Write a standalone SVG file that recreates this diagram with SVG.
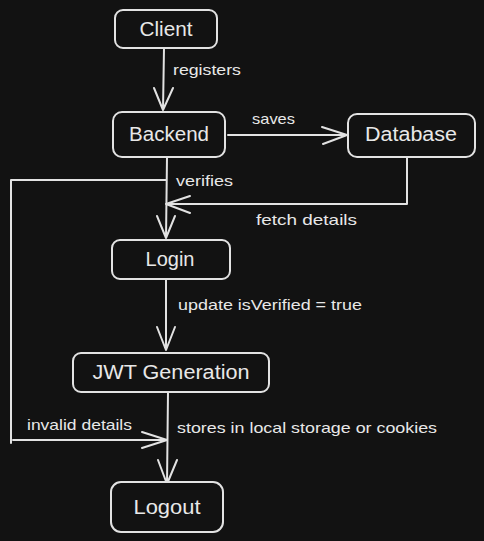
<svg xmlns="http://www.w3.org/2000/svg" width="484" height="541" viewBox="0 0 484 541">
<style>
.bg{fill:#121212}
.box{fill:#121212;stroke:#e2e2e2;stroke-width:2}
.ln{fill:none;stroke:#e2e2e2;stroke-width:2;stroke-linecap:round;stroke-linejoin:round}
.nt{fill:#e8e8e8;font-family:"Liberation Sans","DejaVu Sans",sans-serif;font-size:20px;text-anchor:middle}
.et{fill:#e8e8e8;font-family:"Liberation Sans","DejaVu Sans",sans-serif;font-size:15px}
</style>
<rect class="bg" x="0" y="0" width="484" height="541"/>
<g id="connectors">
  <path class="ln" d="M164 48 L163 110 M154 88 L163 110 L173 88"/>
  <text class="et" x="173" y="75" textLength="68" lengthAdjust="spacingAndGlyphs">registers</text>
  <path class="ln" d="M228 135 L346 135 M322 127 L347 135 L323 144"/>
  <text class="et" x="252" y="124" textLength="43" lengthAdjust="spacingAndGlyphs">saves</text>
  <path class="ln" d="M167 157 L166 238 M157 216 L166 238 L175 216"/>
  <text class="et" x="176" y="186" textLength="57" lengthAdjust="spacingAndGlyphs">verifies</text>
  <path class="ln" d="M407 157 L407 204 L166 204 M190 196 L166 204 L190 213"/>
  <text class="et" x="256" y="225" textLength="101" lengthAdjust="spacingAndGlyphs">fetch details</text>
  <path class="ln" d="M166 180 L11 180 L11 443 M13 440 L167 440 M142 432 L167 440 L142 448"/>
  <text class="et" x="27" y="430" textLength="105" lengthAdjust="spacingAndGlyphs">invalid details</text>
  <path class="ln" d="M166 279 L166 350 M157 327 L166 350 L175 327"/>
  <text class="et" x="178" y="310" textLength="184" lengthAdjust="spacingAndGlyphs">update isVerified = true</text>
  <path class="ln" d="M168 392 L167 484 M158 460 L167 484 L177 460"/>
  <text class="et" x="177" y="433" textLength="260" lengthAdjust="spacingAndGlyphs">stores in local storage or cookies</text>
</g>
<g id="client">
  <rect class="box" x="115" y="10" width="102" height="38" rx="8"/>
  <text class="nt" x="166" y="36" textLength="53" lengthAdjust="spacingAndGlyphs">Client</text>
</g>
<g id="backend">
  <rect class="box" x="113" y="112" width="112" height="45" rx="9"/>
  <text class="nt" x="169" y="141" textLength="80" lengthAdjust="spacingAndGlyphs">Backend</text>
</g>
<g id="database">
  <rect class="box" x="348" y="114" width="127" height="43" rx="9"/>
  <text class="nt" x="411" y="141" textLength="92" lengthAdjust="spacingAndGlyphs">Database</text>
</g>
<g id="login">
  <rect class="box" x="112" y="240" width="118" height="39" rx="8"/>
  <text class="nt" x="170" y="266" textLength="49" lengthAdjust="spacingAndGlyphs">Login</text>
</g>
<g id="jwt">
  <rect class="box" x="73" y="353" width="196" height="39" rx="8"/>
  <text class="nt" x="171" y="379" textLength="157" lengthAdjust="spacingAndGlyphs">JWT Generation</text>
</g>
<g id="logout">
  <rect class="box" x="111" y="482" width="112" height="50" rx="10"/>
  <text class="nt" x="167" y="514" textLength="67" lengthAdjust="spacingAndGlyphs">Logout</text>
</g>
</svg>
